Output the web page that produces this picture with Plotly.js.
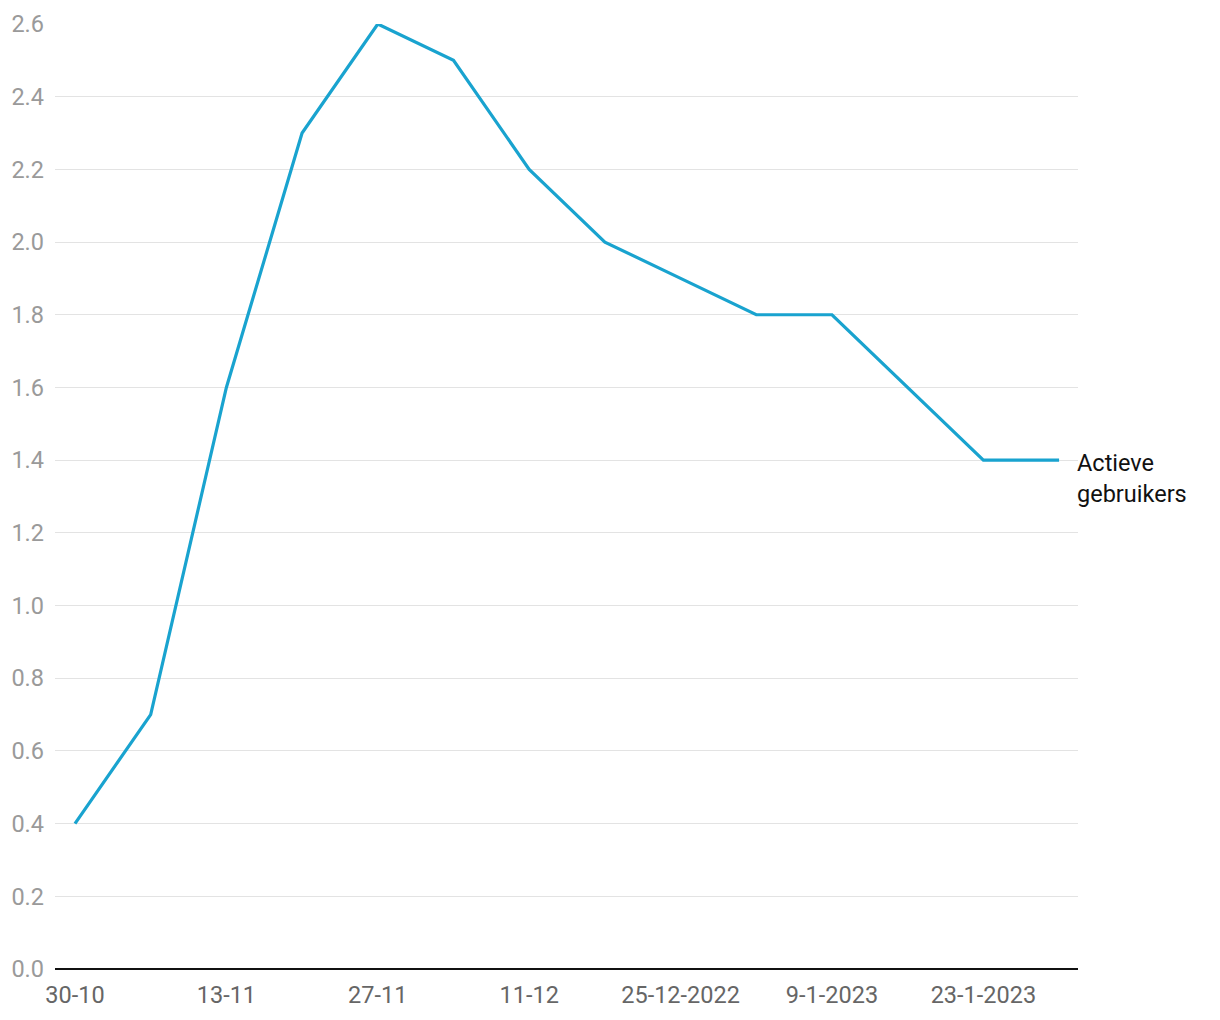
<!DOCTYPE html>
<html>
<head>
<meta charset="utf-8">
<script src="https://cdn.plot.ly/plotly-3.0.1.min.js"></script>
<style>html,body{margin:0;padding:0;background:#fff;}#chart{width:1220px;height:1020px;}</style>
</head>
<body>
<div id="chart"></div>
<script>
const weeks = ["30-10","6-11","13-11","20-11","27-11","4-12","11-12","18-12","25-12-2022","2-1-2023","9-1-2023","16-1-2023","23-1-2023","30-1-2023"];
const activeUsers = [0.4,0.7,1.6,2.3,2.6,2.5,2.2,2.0,1.9,1.8,1.8,1.6,1.4,1.4];
const tickLabels = ["30-10","13-11","27-11","11-12","25-12-2022","9-1-2023","23-1-2023"];
const tickIdx = [0,2,4,6,8,10,12];
const seriesName = "Actieve<br>gebruikers";
const yTicks = [0,0.2,0.4,0.6,0.8,1.0,1.2,1.4,1.6,1.8,2.0,2.2,2.4,2.6];

const xIdx = weeks.map((_, i) => i);

Plotly.newPlot('chart', [{
  x: xIdx, y: activeUsers, type: 'scatter', mode: 'lines',
  line: {color: '#19a3cf', width: 3.2}, hoverinfo: 'skip', showlegend: false
}], {
  width: 1220, height: 1020,
  margin: {l: 55, r: 142, t: 24, b: 51},
  paper_bgcolor: '#fff', plot_bgcolor: '#fff',
  font: {family: 'Roboto, sans-serif'},
  xaxis: {
    range: [-0.264, 13.25], tickvals: tickIdx, ticktext: tickLabels,
    showgrid: false, zeroline: false, showline: false, ticks: '',
    ticklabelstandoff: 9,
    tickfont: {size: 23.5, color: '#666'}, fixedrange: true
  },
  yaxis: {
    range: [0, 2.6], tickvals: yTicks, ticktext: yTicks.map(v => v.toFixed(1)),
    showgrid: true, gridcolor: '#e3e3e3', gridwidth: 1,
    zeroline: true, zerolinecolor: '#111', zerolinewidth: 2,
    showline: false, ticks: '', ticklabelstandoff: 10,
    tickfont: {size: 23.5, color: '#9a9a9a'}, fixedrange: true
  },
  annotations: [{
    x: 1, xref: 'paper', y: activeUsers[activeUsers.length - 1], yref: 'y',
    text: seriesName, showarrow: false, xanchor: 'left', yanchor: 'top', align: 'left',
    xshift: -3, yshift: 13, font: {size: 23.5, color: '#111'}
  }]
}, {displayModeBar: false, staticPlot: true});
</script>
</body>
</html>
